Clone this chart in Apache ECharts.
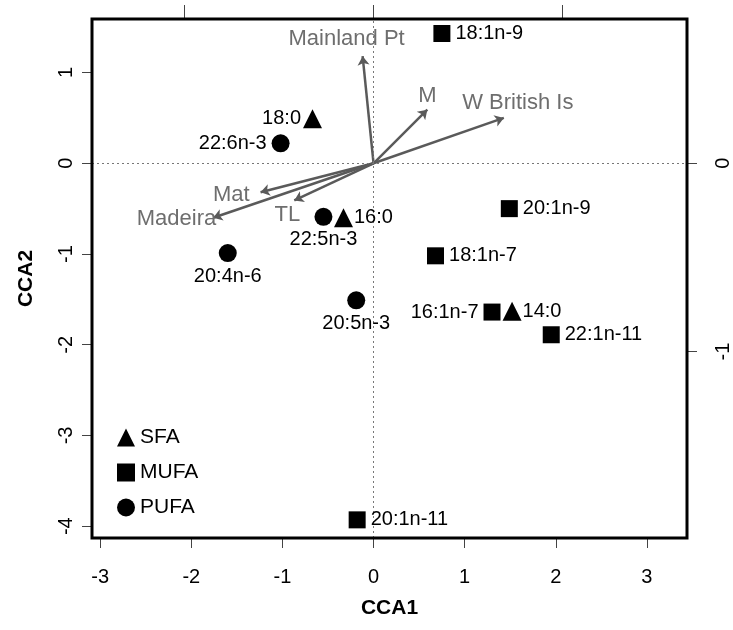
<!DOCTYPE html>
<html>
<head>
<meta charset="utf-8">
<script src="https://cdn.jsdelivr.net/npm/echarts@6/dist/echarts.min.js"></script>
<style>html,body{margin:0;padding:0;background:#fff}#c{width:733px;height:630px}</style>
</head>
<body>
<div id="c"></div>
<script>
// ---- data ----
var sfaNames = ['18:0', '16:0', '14:0'];
var sfaX = [-0.67, -0.33, 1.52];
var sfaY = [0.49, -0.60, -1.63];

var mufaNames = ['18:1n-9', '20:1n-9', '18:1n-7', '16:1n-7', '22:1n-11', '20:1n-11'];
var mufaX = [0.75, 1.49, 0.68, 1.30, 1.95, -0.18];
var mufaY = [1.43, -0.50, -1.02, -1.64, -1.89, -3.93];

var pufaNames = ['22:6n-3', '22:5n-3', '20:4n-6', '20:5n-3'];
var pufaX = [-1.02, -0.55, -1.60, -0.19];
var pufaY = [0.22, -0.59, -0.99, -1.51];

var envNames = ['Mainland Pt', 'M', 'W British Is', 'Mat', 'TL', 'Madeira'];
var envX = [-0.12, 0.59, 1.43, -1.24, -0.87, -1.76];
var envY = [1.18, 0.59, 0.50, -0.32, -0.41, -0.60];

var xTicks = [-3, -2, -1, 0, 1, 2, 3];
var yTicks = [-4, -3, -2, -1, 0, 1];
var topTicks = [-1, 0, 1];
var rightTicks = [-1, 0];
var legendNames = ['SFA', 'MUFA', 'PUFA'];

// ---- styling / layout ----
var FONT = 'Liberation Sans, Arial, sans-serif';
var xMin = -3.09, xMax = 3.44, yMin = -4.13, yMax = 1.59;
var sec = 2.075; // secondary axis scale

var pointLabelPos = {
  '18:0': 'left', '16:0': 'right', '14:0': 'right',
  '18:1n-9': 'right', '20:1n-9': 'right', '18:1n-7': 'right', '16:1n-7': 'left',
  '22:1n-11': 'right', '20:1n-11': 'right',
  '22:6n-3': 'left', '22:5n-3': 'bottom', '20:4n-6': 'bottom', '20:5n-3': 'bottom'
};
var pointLabelDist = {'14:0': 1, '16:0': 1, '18:0': 2};

var envLabelStyle = {
  'Mainland Pt': {position: 'top', offset: [-16, 0]},
  'M': {position: 'top', offset: [0, 3]},
  'W British Is': {position: 'top', offset: [14, 2]},
  'Mat': {position: 'left', offset: [-5, 3]},
  'TL': {position: 'bottom', offset: [-7, -3]},
  'Madeira': {position: 'left', offset: [9, 1]}
};

function pts(names, xs, ys) {
  return names.map(function (n, i) {
    var pos = pointLabelPos[n];
    return {
      name: n, value: [xs[i], ys[i]],
      label: {position: pos, distance: (pointLabelDist[n] !== undefined ? pointLabelDist[n] : (pos === 'bottom' ? 4 : 5))}
    };
  });
}

var pointLabel = {show: true, formatter: '{b}', color: '#000', fontSize: 20, fontFamily: FONT};

function scatter(name, symbol, size, names, xs, ys) {
  return {
    name: name, type: 'scatter', symbol: symbol, symbolSize: size,
    itemStyle: {color: '#000', opacity: 1}, data: pts(names, xs, ys),
    label: pointLabel, z: 5, silent: true
  };
}

var arrowData = envNames.map(function (n, i) {
  return {coords: [[0, 0], [envX[i], envY[i]]]};
});
var envLabelData = envNames.map(function (n, i) {
  var s = envLabelStyle[n];
  return {name: n, value: [envX[i], envY[i]], label: {position: s.position, offset: s.offset}};
});

var noLine = {show: false, onZero: false};

var chart = echarts.init(document.getElementById('c'), null, {renderer: 'canvas'});
chart.setOption({
  animation: false,
  backgroundColor: '#fff',
  grid: {left: 92, right: 46, top: 19, bottom: 92, show: true, borderColor: '#000', borderWidth: 3, backgroundColor: 'transparent', z: 10},
  legend: {
    data: legendNames, orient: 'vertical', left: 112, top: 422,
    itemWidth: 18, itemHeight: 18, itemGap: 14, selectedMode: false,
    itemStyle: {opacity: 1},
    textStyle: {fontSize: 21, fontFamily: FONT, color: '#000', padding: [0, 0, 0, 0]}
  },
  xAxis: [{
    type: 'value', min: xMin, max: xMax, position: 'bottom',
    axisLine: noLine, splitLine: {show: false},
    axisTick: {show: true, length: 10, customValues: xTicks, lineStyle: {color: '#444', width: 1}},
    axisLabel: {customValues: xTicks, fontSize: 20, fontFamily: FONT, color: '#000', margin: 29},
    name: 'CCA1', nameLocation: 'middle', nameGap: 60,
    nameTextStyle: {fontSize: 21, fontWeight: 'bold', fontFamily: FONT, color: '#000'}
  }, {
    type: 'value', min: xMin / sec, max: xMax / sec, position: 'top',
    axisLine: noLine, splitLine: {show: false},
    axisTick: {show: true, length: 14, customValues: topTicks, lineStyle: {color: '#444', width: 1}},
    axisLabel: {show: false}
  }],
  yAxis: [{
    type: 'value', min: yMin, max: yMax, position: 'left',
    axisLine: noLine, splitLine: {show: false},
    axisTick: {show: true, length: 10, customValues: yTicks, lineStyle: {color: '#444', width: 1}},
    axisLabel: {customValues: yTicks, fontSize: 20, fontFamily: FONT, color: '#000', rotate: 90, margin: 16},
    name: 'CCA2', nameLocation: 'middle', nameGap: 55, nameRotate: 90,
    nameTextStyle: {fontSize: 21, fontWeight: 'bold', fontFamily: FONT, color: '#000'}
  }, {
    type: 'value', min: yMin / sec, max: yMax / sec, position: 'right',
    axisLine: noLine, splitLine: {show: false},
    axisTick: {show: true, length: 10, customValues: rightTicks, lineStyle: {color: '#444', width: 1}},
    axisLabel: {customValues: rightTicks, fontSize: 20, fontFamily: FONT, color: '#000', rotate: 90, margin: 26}
  }],
  series: [
    {
      type: 'scatter', data: [], silent: true,
      markLine: {
        silent: true, symbol: 'none', label: {show: false},
        lineStyle: {type: [2, 3], color: '#777', width: 1},
        data: [{xAxis: 0}, {yAxis: 0}]
      }
    },
    {
      type: 'lines', coordinateSystem: 'cartesian2d', data: arrowData, silent: true,
      symbol: ['none', 'arrow'], symbolSize: [0, 9],
      lineStyle: {color: '#5a5a5a', width: 2.5, opacity: 1}, z: 3
    },
    {
      type: 'scatter', data: envLabelData, symbolSize: 0, silent: true,
      itemStyle: {opacity: 1},
      label: {show: true, formatter: '{b}', color: '#6e6e6e', fontSize: 22, fontFamily: FONT, distance: 6}, z: 4
    },
    scatter('SFA', 'triangle', 19, sfaNames, sfaX, sfaY),
    scatter('MUFA', 'rect', 17, mufaNames, mufaX, mufaY),
    scatter('PUFA', 'circle', 18, pufaNames, pufaX, pufaY)
  ]
});
</script>
</body>
</html>
